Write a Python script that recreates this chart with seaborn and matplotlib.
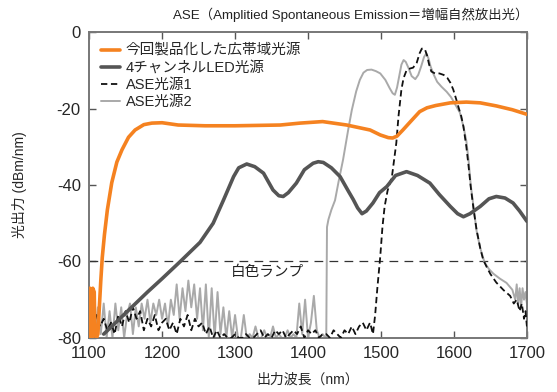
import numpy as np
import pandas as pd
import matplotlib
matplotlib.use("Agg")
import matplotlib.pyplot as plt
import seaborn as sns

# ---- data (wavelength nm, output dBm/nm) ----
orange_wl = [1100, 1101, 1102, 1104, 1105, 1107, 1108, 1110, 1112, 1114, 1116, 1118,
             1121, 1125, 1131, 1138, 1145, 1154, 1163, 1175, 1186, 1200, 1222, 1259,
             1300, 1362, 1389, 1420, 1453, 1485, 1499, 1510, 1516, 1522, 1530, 1540,
             1553, 1563, 1575, 1595, 1617, 1636, 1658, 1680, 1700]
orange_db = [-80, -67, -69, -80, -67, -68, -79, -80, -79, -72, -65, -59,
             -53, -46.5, -39.4, -34, -30.8, -27.5, -25.6, -24.2, -23.8, -23.7, -24.3, -24.5,
             -24.5, -24.3, -23.8, -23.4, -24.3, -25.6, -26.9, -27.6, -27.7, -27.2, -25.6, -23.5,
             -20.8, -19.8, -19.2, -18.5, -18.3, -18.5, -19.3, -20.3, -21.5]

led_wl = [1120, 1150, 1180, 1200, 1225, 1252, 1270, 1284, 1298, 1305, 1316, 1327,
          1339, 1352, 1360, 1366, 1373, 1384, 1395, 1407, 1414, 1421, 1432, 1444,
          1455, 1462, 1468, 1474, 1480, 1489, 1498, 1508, 1520, 1535, 1550, 1567,
          1580, 1595, 1605, 1613, 1622, 1636, 1648, 1658, 1670, 1681, 1690, 1700]
led_db = [-79, -73.5, -68, -64.5, -60, -55, -50, -44, -37.8, -35.5, -34.5, -35.2,
          -36.9, -41.3, -42.8, -43, -42, -39.5, -36, -34.3, -33.9, -34.1, -35.5, -37.8,
          -41.5, -43.8, -46, -47.5, -46.8, -44.7, -42, -40.4, -37.5, -36.5, -37.5, -39.5,
          -42.5, -45.6, -47.5, -48.3, -47.5, -45.6, -43.6, -43, -43.4, -44.7, -46.8, -49.5]

# ASE source 1: noise floor sampled every 5 nm from 1100, then the emission band
ase1_floor_start, ase1_floor_step = 1100, 5
ase1_floor_db = [-80, -78, -74, -77, -75, -78, -76, -79, -74, -77, -73, -76, -72, -75,
                 -73, -78, -75, -77, -74, -78, -76, -75, -78, -76, -79, -75, -77, -74,
                 -78, -75, -77, -76, -79, -77, -80, -78, -80, -79, -80, -80, -79, -80,
                 -80, -79, -80, -80, -79, -78, -80, -79, -80, -78, -79, -78, -80, -79,
                 -78, -79, -77, -80, -78, -79, -78, -80, -79, -79, -80, -78, -79, -80,
                 -78, -79, -77, -79, -77, -76, -78, -76]
ase1_band_wl = [1489, 1492, 1495, 1499, 1502, 1505, 1509, 1515, 1518, 1521, 1524, 1528,
                1531, 1535, 1540, 1544, 1549, 1553, 1556, 1560, 1563, 1566, 1569, 1574,
                1580, 1586, 1591, 1595, 1599, 1603, 1606, 1610, 1613, 1617, 1620, 1623,
                1627, 1631, 1636, 1640, 1645, 1650, 1658, 1668, 1677, 1682, 1686, 1690,
                1693, 1696, 1698, 1700]
ase1_band_db = [-79, -74, -67, -58.7, -51, -45.6, -41.5, -37.8, -33.5, -29, -22, -15,
                -12, -10, -9.5, -9.3, -8, -5.5, -4.3, -4.4, -6, -8.5, -10.3, -10.8,
                -10.8, -11.2, -12, -13.2, -15, -17.5, -19.5, -22, -24.7, -30, -35, -40.5,
                -46.5, -51.7, -56.5, -59.5, -61.5, -63.3, -65.5, -67.5, -69, -71, -70, -73,
                -71, -75, -73, -77]

# ASE source 2: noise floor sampled every 4 nm from 1100, then the emission band
ase2_floor_start, ase2_floor_step = 1100, 4
ase2_floor_db = [-78, -76, -80, -72, -79, -71, -80, -73, -80, -71, -78, -72, -80, -74,
                 -71, -79, -72, -77, -71, -75, -70, -76, -71, -74, -70, -75, -71, -77,
                 -70, -74, -66, -75, -67, -73, -65, -72, -66, -75, -67, -78, -66, -80,
                 -67, -80, -68, -79, -72, -80, -73, -80, -74, -80, -80, -74, -80, -79,
                 -80, -77, -80, -80, -78, -80, -80, -77, -80, -79, -80, -80, -78, -80,
                 -79, -80, -71, -79, -70, -80, -76, -69, -78, -80, -79, -80]
ase2_band_wl = [1425, 1426, 1428, 1432, 1437, 1442, 1448, 1455, 1460, 1466, 1471, 1476,
                1481, 1487, 1493, 1499, 1506, 1512, 1516, 1519, 1522, 1525, 1528, 1531,
                1534, 1538, 1542, 1547, 1551, 1555, 1559, 1562, 1565, 1568, 1572, 1577,
                1583, 1590, 1596, 1602, 1608, 1613, 1617, 1620, 1623, 1627, 1631, 1636,
                1642, 1648, 1654, 1663, 1672, 1680, 1684, 1686, 1688, 1690, 1692, 1694,
                1696, 1698, 1700]
ase2_band_db = [-80, -51, -49, -46.5, -44, -39, -33.4, -25.6, -20.4, -15.5, -12.5, -10.6,
                -9.9, -9.8, -10.2, -10.8, -12.5, -14.7, -16, -16.4, -14.5, -11.5, -8.5, -7.3,
                -7.8, -9.5, -11.5, -12.3, -11.2, -9, -6.5, -5.6, -6.8, -9, -11, -13,
                -14.3, -15.6, -17, -19, -21, -24.7, -28.5, -33.5, -40, -46, -52, -56.5,
                -60.3, -62, -63.2, -64.5, -65.6, -67.4, -70, -66, -71, -67, -72, -67,
                -70, -68, -71]

lamp_level = -60
labels = ["今回製品化した広帯域光源", "4チャンネルLED光源", "ASE光源1", "ASE光源2"]
x_ticks = [1100, 1200, 1300, 1400, 1500, 1600, 1700]
y_ticks = [0, -20, -40, -60, -80]


def floor_x(start, step, vals):
    return [start + step * i for i in range(len(vals))]


ase1_wl = floor_x(ase1_floor_start, ase1_floor_step, ase1_floor_db) + ase1_band_wl
ase1_db = ase1_floor_db + ase1_band_db
ase2_wl = floor_x(ase2_floor_start, ase2_floor_step, ase2_floor_db) + ase2_band_wl
ase2_db = ase2_floor_db + ase2_band_db

sns.set_theme(style="ticks")
plt.rcParams["font.family"] = ["Liberation Sans", "Noto Sans CJK JP"]
plt.rcParams["axes.unicode_minus"] = False

fig, ax = plt.subplots(figsize=(5.57, 3.92), dpi=100)
fig.subplots_adjust(left=0.16, right=0.946, top=0.918, bottom=0.138)

ax.axhline(lamp_level, color="#333333", lw=0.9, ls=(0, (7, 5)), zorder=1)

styles = [
    (orange_wl, orange_db, "#F58220", 2.6, "-"),
    (led_wl, led_db, "#555555", 2.6, "-"),
    (ase1_wl, ase1_db, "#111111", 1.3, (0, (3.5, 2))),
    (ase2_wl, ase2_db, "#A9A9A9", 1.4, "-"),
]
draw_order = [3, 2, 1, 0]
handles = [None] * 4
for i in draw_order:
    wl, db, col, lw, ls = styles[i]
    df = pd.DataFrame({"wl": wl, "db": db})
    sns.lineplot(data=df, x="wl", y="db", ax=ax, sort=False, estimator=None,
                 color=col, lw=lw, linestyle=ls, zorder=2 + (3 - i))
    handles[i] = ax.lines[-1]

ax.text(1345, -62.8, "白色ランプ", ha="center", va="center", fontsize=10.5, color="#222222")

ax.set_xlim(1100, 1700)
ax.set_ylim(-80, 0)
ax.set_xticks(x_ticks)
ax.set_yticks(y_ticks)
ax.tick_params(direction="in", length=5, width=1, color="#555555", labelsize=12,
               top=True, right=True, pad=6)
for s in ax.spines.values():
    s.set_color("#777777")
    s.set_linewidth(1.4)

ax.set_xlabel("出力波長（nm）", fontsize=10, labelpad=8)
ax.set_ylabel("光出力 (dBm/nm)", fontsize=10, labelpad=21)

leg = ax.legend(handles, labels, loc="upper left", bbox_to_anchor=(0.0, 1.0),
                frameon=False, fontsize=10.5, handlelength=1.3, handletextpad=0.4,
                labelspacing=0.2, borderaxespad=0.4)

fig.text(0.948, 0.962, "ASE（Amplitied Spontaneous Emission＝増幅自然放出光）",
         ha="right", va="center", fontsize=9.6, color="#222222")

fig.savefig("out.png", dpi=100)
